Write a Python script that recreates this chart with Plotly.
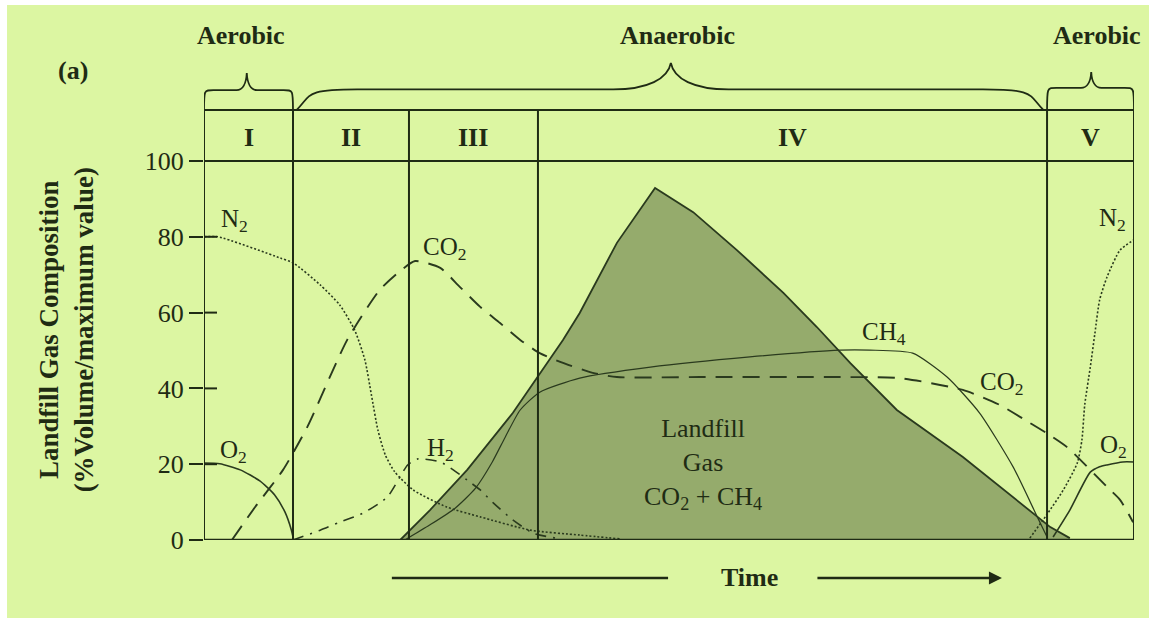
import plotly.graph_objects as go

# ---------------- data ----------------
phase_edges = [0, 9.57, 22.04, 35.91, 90.65, 100]
phase_labels = ["I", "II", "III", "IV", "V"]
y_ticks = [0, 20, 40, 60, 80, 100]

n2_t1 = [0, 1.5, 8.2, 9.6, 12.5, 14.6, 16.2, 17.3, 18.0, 18.7, 19.5, 20.5, 22.5, 26.1, 29.7, 35.1, 40.4, 44.7]
n2_v1 = [80, 80, 74.4, 73.1, 67.3, 62.0, 55.4, 47.5, 38.3, 29.0, 22.4, 18.0, 13.2, 8.7, 6.1, 2.6, 1.3, 0.3]
n2_t2 = [88.8, 90.6, 92.4, 93.9, 94.4, 94.7, 95.3, 95.8, 96.3, 97.1, 98.5, 100]
n2_v2 = [0.5, 6.6, 13.2, 20.3, 26.4, 35.6, 45.6, 54.6, 63.3, 69.4, 76.5, 79.2]

o2_t1 = [0, 1.7, 3.9, 6.0, 7.6, 8.7, 9.4, 9.6]
o2_v1 = [20.3, 20.1, 18.5, 15.6, 11.9, 7.4, 2.6, 0.5]
o2_t2 = [91.3, 93.1, 95.3, 96.3, 97.1, 98.8, 100]
o2_v2 = [0.8, 7.9, 17.9, 19.3, 19.8, 20.6, 20.6]

co2_t = [3.0, 5.5, 8.5, 11.1, 15.4, 18.9, 21.1, 22.7, 25.4, 27.5, 29.7, 31.8, 34.0, 36.1, 38.3,
         41.8, 44.4, 53.3, 67.6, 74.8, 81.6, 85.6, 88.8, 90.6, 92.8, 97.1, 98.5, 99.9]
co2_v = [0, 8.7, 18.5, 29.8, 52.8, 66.0, 71.0, 73.6, 71.8, 66.8, 61.5, 57.3, 52.8, 49.3, 47.0,
         44.1, 43.0, 43.0, 43.0, 42.7, 39.6, 35.6, 30.9, 28.2, 24.5, 14.0, 10.6, 4.7]

h2_t = [9.57, 12.5, 14.6, 17.1, 19.7, 21.9, 23.0, 25.4, 26.8, 28.3, 29.7, 31.1, 33.2, 35.4, 38.3]
h2_v = [0, 2.6, 4.7, 7.1, 11.3, 19.8, 21.4, 20.6, 18.5, 15.8, 13.2, 9.8, 5.3, 1.8, 0.3]

ch4_t = [21.6, 24.3, 27.0, 29.2, 31.0, 32.4, 34.0, 36.1, 40.4, 48.0, 58.7, 68.4, 71.6, 76.2, 79.9, 83.4, 87.0, 89.6, 90.65]
ch4_v = [0, 4.0, 8.4, 13.7, 20.6, 27.2, 34.3, 39.0, 42.7, 45.6, 48.3, 50.1, 50.1, 49.3, 43.0, 33.5, 19.3, 6.1, 0.8]

gas_t = [21.1, 24.3, 28.3, 33.2, 38.6, 40.4, 44.4, 48.5, 52.6, 57.3, 62.3, 65.9, 69.5, 74.5, 81.6, 88.8, 91.0, 93.1]
gas_v = [0, 7.9, 18.5, 33.5, 52.8, 59.9, 78.4, 92.9, 86.5, 76.5, 65.2, 56.2, 46.7, 34.3, 21.9, 7.9, 3.4, 0.5]

# ---------------- style ----------------
BG = "#dcf6a2"
INK = "#1f2b14"
CURVE = "#2a3a1e"
SERIF = "Liberation Serif, Times New Roman, serif"
Y_TOP = 141.16
HDR = 113.46

fig = go.Figure()

fig.add_trace(go.Scatter(
    x=gas_t, y=gas_v, mode="lines", fill="tozeroy",
    line=dict(color=CURVE, width=1.8), fillcolor="#95ab6c",
    hoverinfo="skip", showlegend=False))

curve_specs = [
    (n2_t1, n2_v1, "2px,2px", 1.6, 0.6),
    (n2_t2, n2_v2, "2px,2px", 1.6, 0.6),
    (o2_t1, o2_v1, "solid", 1.6, 0.6),
    (o2_t2, o2_v2, "solid", 1.6, 0.6),
    (co2_t, co2_v, "17px,10px", 1.9, 0.6),
    (h2_t, h2_v, "11px,7px,2px,7px", 1.6, 0.6),
    (ch4_t, ch4_v, "solid", 1.2, 0.6),
]
for tx, vy, dash, w, sm in curve_specs:
    fig.add_trace(go.Scatter(
        x=tx, y=vy, mode="lines",
        line=dict(color=CURVE, width=w, dash=dash, shape="spline", smoothing=sm),
        hoverinfo="skip", showlegend=False))

shapes = []
shapes.append(dict(type="rect", xref="paper", yref="paper", x0=-0.2118, x1=1.02, y0=-0.16, y1=1.0,
                   fillcolor=BG, line=dict(width=0), layer="below"))
shapes.append(dict(type="line", xref="x", yref="y", x0=0, x1=100, y0=0, y1=0, line=dict(color=INK, width=2.6)))
shapes.append(dict(type="line", xref="x", yref="y", x0=0, x1=100, y0=100, y1=100, line=dict(color=INK, width=2)))
shapes.append(dict(type="line", xref="x", yref="y", x0=0, x1=100, y0=HDR, y1=HDR, line=dict(color=INK, width=2)))
for e in phase_edges:
    shapes.append(dict(type="line", xref="x", yref="y", x0=e, x1=e, y0=0, y1=HDR, line=dict(color=INK, width=2)))
for v in y_ticks[1:-1]:
    shapes.append(dict(type="line", xref="paper", yref="y", x0=0, x1=13 / 930, y0=v, y1=v,
                       line=dict(color=INK, width=2)))


def brace(a, b, m, base, shoulder, tip, ex, tw, k1, k2):
    def p(x, y):
        return f"{x:.3f},{y:.3f}"
    c1 = p(a + ex * k1, base + (shoulder - base) * k2)
    c2 = p(a + ex * (0.5 * k1), shoulder)
    d1 = p(b - ex * k1, base + (shoulder - base) * k2)
    d2 = p(b - ex * (0.5 * k1), shoulder)
    s = (f"M {p(a, base)} C {c1} {c2} {p(a + ex, shoulder)} L {p(m - tw, shoulder)} "
         f"C {p(m - tw * 0.4, shoulder)} {p(m - tw * 0.05, shoulder + (tip - shoulder) * 0.4)} {p(m, tip)} "
         f"C {p(m + tw * 0.05, shoulder + (tip - shoulder) * 0.4)} {p(m + tw * 0.4, shoulder)} {p(m + tw, shoulder)} "
         f"L {p(b - ex, shoulder)} C {d2} {d1} {p(b, base)}")
    return dict(type="path", xref="x", yref="y", path=s, line=dict(color=INK, width=1.8))


shapes.append(brace(phase_edges[0], phase_edges[1], 4.6, HDR, 118.7, 123.2, 1.0, 1.1, 0.0, 1.0))
shapes.append(brace(phase_edges[1] + 0.4, phase_edges[4] - 0.4, 50.2, HDR, 118.9, 125.9, 6.5, 6.2, 0.25, 0.75))
shapes.append(brace(phase_edges[4], phase_edges[5], 95.4, HDR, 119.3, 123.5, 1.0, 1.1, 0.0, 1.0))

shapes.append(dict(type="line", xref="x", yref="paper", x0=20.2, x1=49.9, y0=-0.071, y1=-0.071,
                   line=dict(color=INK, width=2.6)))

ann = []
F = dict(family=SERIF, size=26, color=INK)
C = dict(xanchor="center", yanchor="middle", showarrow=False)
for i, lab in enumerate(phase_labels):
    ann.append(dict(x=(phase_edges[i] + phase_edges[i + 1]) / 2, y=106.2, xref="x", yref="y",
                    text=f"<b>{lab}</b>", font=F, **C))
for xx, lab in [(4.0, "Aerobic"), (50.9, "Anaerobic"), (96.0, "Aerobic")]:
    ann.append(dict(x=xx, y=133.2, xref="x", yref="y", text=f"<b>{lab}</b>", font=F, **C))

curve_labels = [
    (3.3, 84.2, "N<sub>2</sub>"), (3.2, 23.3, "O<sub>2</sub>"), (25.9, 77.0, "CO<sub>2</sub>"),
    (25.4, 23.9, "H<sub>2</sub>"), (73.1, 54.6, "CH<sub>4</sub>"), (85.8, 41.4, "CO<sub>2</sub>"),
    (97.7, 84.6, "N<sub>2</sub>"), (97.8, 24.7, "O<sub>2</sub>"),
]
for xx, yy, t in curve_labels:
    ann.append(dict(x=xx, y=yy, xref="x", yref="y", text=t,
                    font=dict(family=SERIF, size=25, color=INK), **C))
ann.append(dict(x=53.7, y=20.0, xref="x", yref="y", text="Landfill<br>Gas<br>CO<sub>2</sub> + CH<sub>4</sub>",
                font=dict(family=SERIF, size=26, color=INK), **C))

ann.append(dict(x=-0.1409, y=0.8785, xref="paper", yref="paper", text="<b>(a)</b>", font=F, **C))
ann.append(dict(x=-0.148, y=0.3925, xref="paper", yref="paper", textangle=-90,
                text="<b>Landfill Gas Composition<br>(%Volume/maximum value)</b>",
                font=dict(family=SERIF, size=27, color=INK), **C))
ann.append(dict(x=58.7, y=-0.071, xref="x", yref="paper", text="<b>Time</b>", font=F, **C))
ann.append(dict(x=85.8, y=-0.071, xref="x", yref="paper", ax=65.8, ay=0, axref="x", ayref="pixel",
                text="", showarrow=True, arrowhead=2, arrowsize=1.0, arrowwidth=2.6, arrowcolor=INK))

fig.update_layout(
    width=1149, height=618,
    margin=dict(l=204, r=15, t=5, b=78),
    paper_bgcolor="white", plot_bgcolor=BG,
    shapes=shapes, annotations=ann, showlegend=False,
    xaxis=dict(range=[0, 100], visible=False, showgrid=False, zeroline=False),
    yaxis=dict(range=[0, Y_TOP], tickvals=y_ticks, ticks="outside", ticklen=14, tickwidth=2,
               tickcolor=INK, showgrid=False, zeroline=False, showline=False,
               tickfont=dict(family=SERIF, size=26, color=INK)),
)

fig.write_html("out.html")
